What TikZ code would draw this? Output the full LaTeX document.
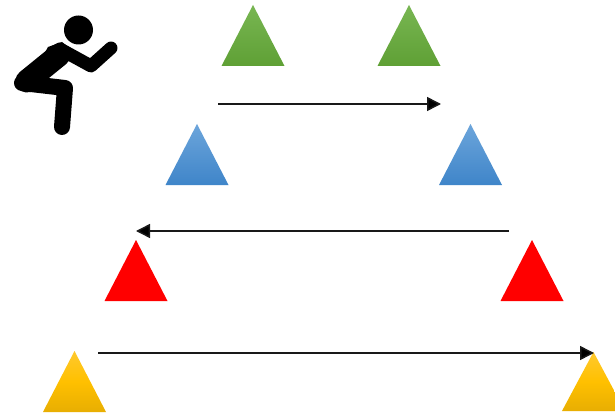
\documentclass[tikz,border=0pt]{standalone}
\usetikzlibrary{arrows.meta}
\definecolor{gtop}{HTML}{78B652}\definecolor{gbot}{HTML}{5FA035}
\definecolor{btop}{HTML}{6CA5DB}\definecolor{bbot}{HTML}{3F85C9}
\definecolor{ytop}{HTML}{FFC92E}\definecolor{ymid}{HTML}{FFC000}\definecolor{ybot}{HTML}{E8AE02}
\tikzset{
  px/.style={x=1pt,y=-1pt},
  greentri/.style={top color=gtop,bottom color=gbot,draw=none},
  bluetri/.style={top color=btop,bottom color=bbot,draw=none},
  redtri/.style={fill=red,draw=none},
  yellowtri/.style={top color=ytop,bottom color=ybot,middle color=ymid,draw=none},
  runarrow/.style={line width=1.5pt,draw=black!90,-{Triangle[length=14pt,width=14pt,fill=black]}},
  limb/.style={draw=black,line cap=round,line join=round}
}
\newcommand{\tri}[4]{\path[#1] (#2-31.5,#4) -- (#2,#3) -- (#2+31.5,#4) -- cycle;}
\begin{document}
\begin{tikzpicture}[px]
\clip (0,0) rectangle (615,414);
\fill[white] (0,0) rectangle (615,414);
% triangles
\tri{greentri}{253}{5}{66}
\tri{greentri}{409}{5}{66}
\tri{bluetri}{197}{124}{185}
\tri{bluetri}{470.5}{124}{185}
\tri{redtri}{136}{240}{301}
\tri{redtri}{532}{240}{301}
\tri{yellowtri}{74.5}{351}{412}
\tri{yellowtri}{593.5}{352}{411}
% arrow ends
\coordinate (a1s) at (218,104); \coordinate (a1e) at (441,104);
\coordinate (a2s) at (509,231); \coordinate (a2e) at (136,231);
\coordinate (a3s) at (98,353);  \coordinate (a3e) at (594,353);
\draw[runarrow] (a1s) -- (a1e);
\draw[runarrow] (a2s) -- (a2e);
\draw[runarrow] (a3s) -- (a3e);
% figure
\fill (78.5,30) circle (14.5);
\draw[limb,line width=23pt] (59,55) -- (27,81);
\fill (48,47) -- (62,42) -- (72,50) -- (66,58) -- (50,72) -- (30,80) -- cycle;
\draw[limb,line width=16pt] (22,83) -- (65,88) -- (62,127);
\draw[limb,line width=13pt] (60,49) -- (91,66) -- (111,48);
\end{tikzpicture}
\end{document}
